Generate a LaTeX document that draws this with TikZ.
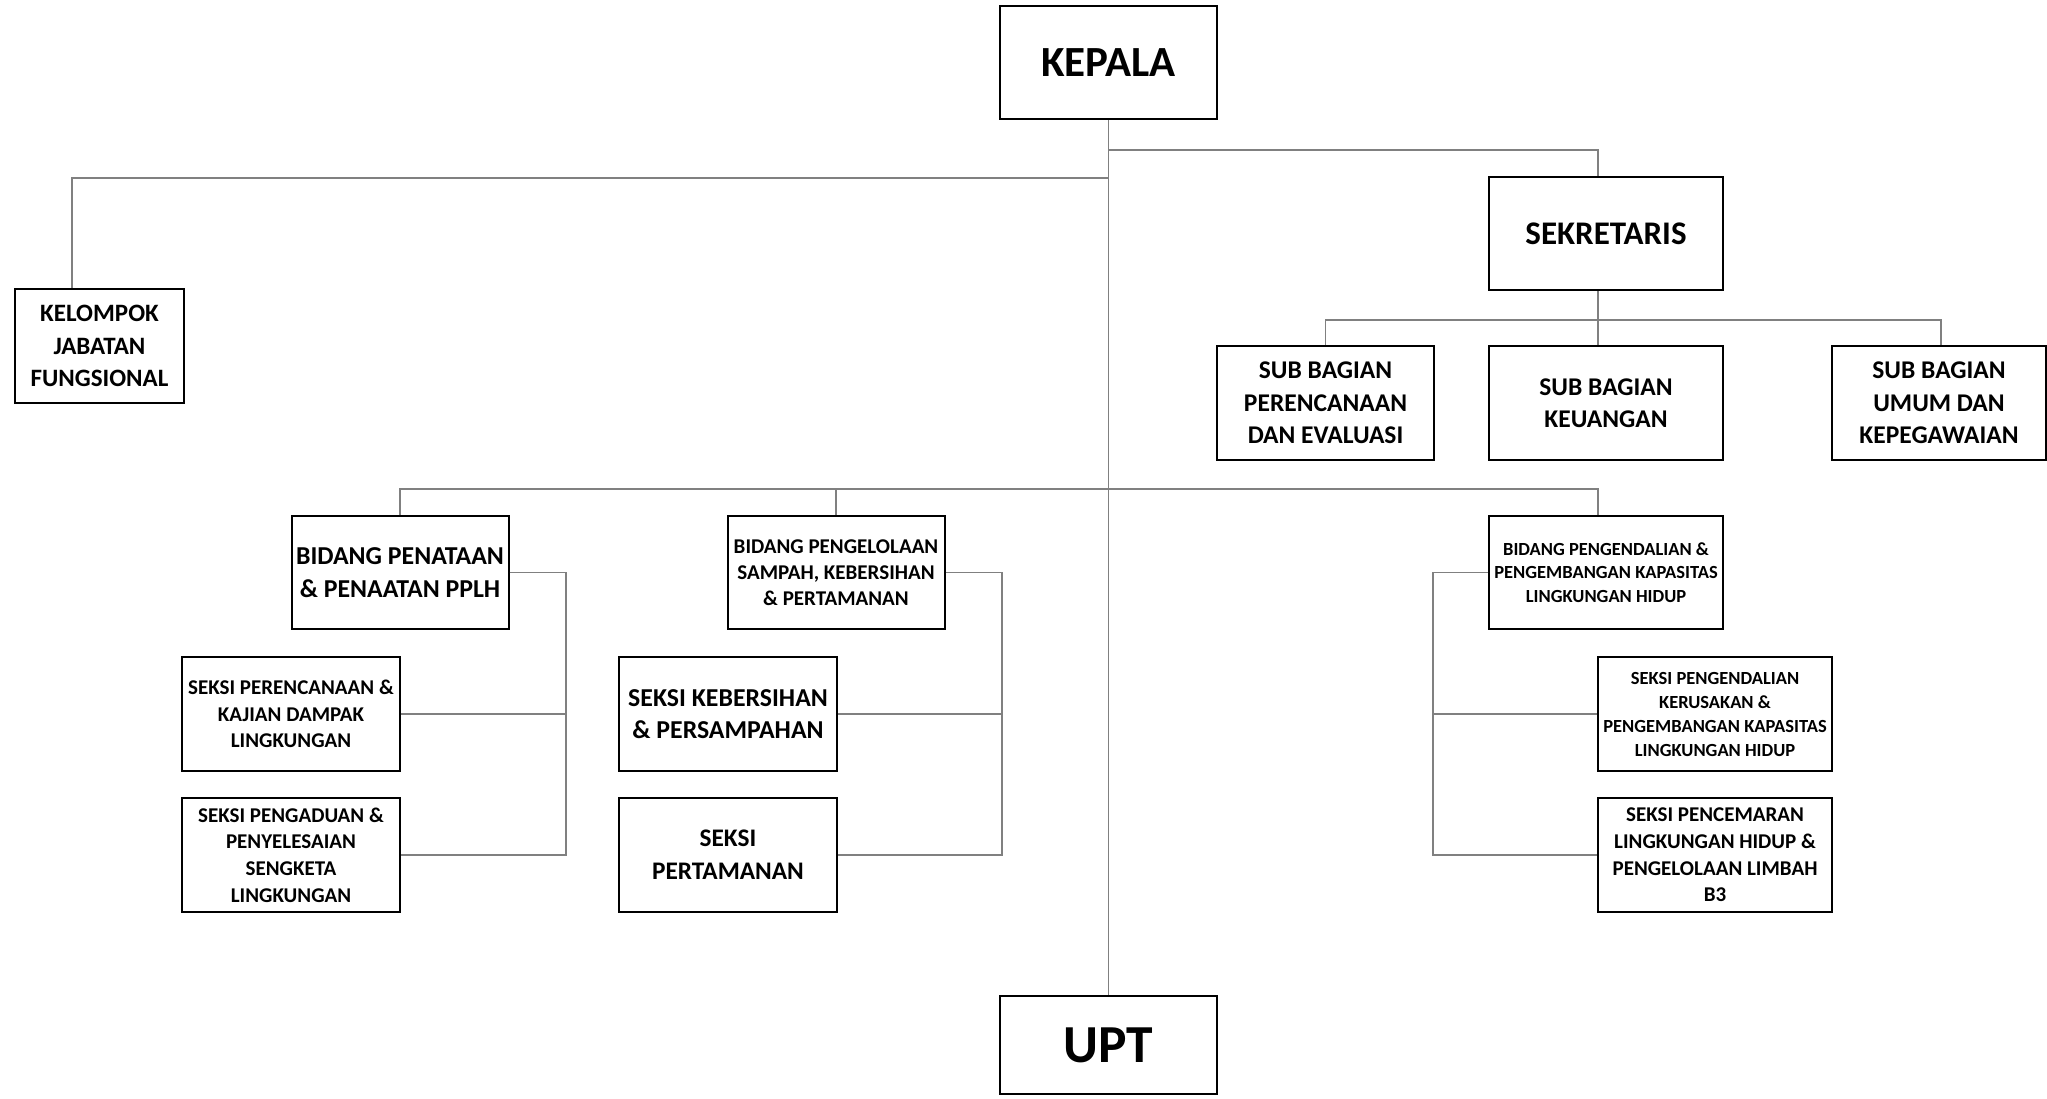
\documentclass[tikz,border=0pt]{standalone}
\usepackage{fontspec}
\setmainfont{Carlito}
\usetikzlibrary{calc}
\tikzset{
    unit/.style={draw,line width=2pt,fill=white,align=center,inner sep=0pt,font=\bfseries},
    fs/.style 2 args={font=\fontsize{#1}{#2}\selectfont\bfseries},
    link/.style={draw=black!50,line width=1.5pt}
}

\begin{document}
\begin{tikzpicture}[x=1pt,y=-1pt]
        \useasboundingbox (0,0) rectangle (2047,1099);
        % Top
        \node[unit,minimum width=217,minimum height=113,fs={43}{48}] (kepala) at (1108.5,63) {KEPALA};
        \node[unit,minimum width=217,minimum height=98,fs={53.5}{60}] (upt) at (1108.5,1045) {UPT};
        \node[unit,minimum width=169,minimum height=114,fs={25}{32.5}] (kelompok) at (99.5,346) {KELOMPOK\\JABATAN\\FUNGSIONAL};
        \node[unit,minimum width=234,minimum height=113,fs={33}{38}] (sekretaris) at (1606,233.5) {SEKRETARIS};
        
        % Sub bagian
        \node[unit,minimum width=217,minimum height=114,fs={25.5}{32.5}] (sb1) at (1325.5,403) {SUB BAGIAN\\PERENCANAAN\\DAN EVALUASI};
        \node[unit,minimum width=234,minimum height=114,fs={25.5}{32.5}] (sb2) at (1606,403) {SUB BAGIAN\\KEUANGAN};
        \node[unit,minimum width=214,minimum height=114,fs={25.5}{32.5}] (sb3) at (1939,403) {SUB BAGIAN\\UMUM DAN\\KEPEGAWAIAN};
        
        % Bidang
        \node[unit,minimum width=217,minimum height=113,fs={25.8}{33.5}] (bid1) at (400,572.5) {BIDANG PENATAAN\\\& PENAATAN PPLH};
        \node[unit,minimum width=217,minimum height=113,fs={21}{26}] (bid2) at (836,572.5) {BIDANG PENGELOLAAN\\SAMPAH, KEBERSIHAN\\\& PERTAMANAN};
        \node[unit,minimum width=234,minimum height=113,fs={18.5}{23.7}] (bid3) at (1606,572.5) {BIDANG PENGENDALIAN \&\\PENGEMBANGAN KAPASITAS\\LINGKUNGAN HIDUP};
        
        % Seksi
        \node[unit,minimum width=218,minimum height=114,fs={21}{26.5}] (s11) at (291,714) {SEKSI PERENCANAAN \&\\KAJIAN DAMPAK\\LINGKUNGAN};
        \node[unit,minimum width=218,minimum height=114,fs={21}{26.6}] (s12) at (291,855) {SEKSI PENGADUAN \&\\PENYELESAIAN\\SENGKETA\\LINGKUNGAN};
        \node[unit,minimum width=218,minimum height=114,fs={25.8}{32}] (s21) at (728,714) {SEKSI KEBERSIHAN\\\& PERSAMPAHAN};
        \node[unit,minimum width=218,minimum height=114,fs={25.3}{33}] (s22) at (728,855) {SEKSI\\PERTAMANAN};
        \node[unit,minimum width=234,minimum height=114,fs={18.5}{24}] (s31) at (1715,714) {SEKSI PENGENDALIAN\\KERUSAKAN \&\\PENGEMBANGAN KAPASITAS\\LINGKUNGAN HIDUP};
        \node[unit,minimum width=234,minimum height=114,fs={21}{26.6}] (s32) at (1715,855) {SEKSI PENCEMARAN\\LINGKUNGAN HIDUP \&\\PENGELOLAAN LIMBAH\\B3};
        
        % Lines from kepala
        \coordinate (js) at ($(kepala.south)+(0,29.5)$);
        \coordinate (jk) at ($(kepala.south)+(0,57.5)$);
        \coordinate (jb) at ($(kepala.south)+(0,368.5)$);
        \draw[link] (kepala) -- (upt);
        \draw[link] (jk) -| ($(kelompok.north)+(-27.5,0)$);
        \draw[link] (js) -| ($(sekretaris.north)+(-8,0)$);
        
        % Sekretaris to sub bagian
        \draw[link] ($(sekretaris.south)+(-8,0)$) -- ($(sb2.north)+(-8,0)$);
        \coordinate (jsb) at ($(sekretaris.south)+(-8,29)$);
        \draw[link] (sb1.north) |- (jsb) -| ($(sb3.north)+(2,0)$);
        
        % Bidang bus
        \draw[link] (bid1.north) |- (jb) -| ($(bid3.north)+(-8,0)$);
        \draw[link] (bid2.north) -- (bid2.north |- jb);
        
        % Bidang to seksi
        \draw[link] (bid1.east) -- ++(56.5,0) coordinate (r1) |- (s12.east);
        \draw[link] (s11.east) -- (s11.east -| r1);
        \draw[link] (bid2.east) -- ++(56.5,0) coordinate (r2) |- (s22.east);
        \draw[link] (s21.east) -- (s21.east -| r2);
        \draw[link] (bid3.west) -- ++(-55,0) coordinate (r3) |- (s32.west);
        \draw[link] (s31.west) -- (s31.west -| r3);
    \end{tikzpicture}
\end{document}
